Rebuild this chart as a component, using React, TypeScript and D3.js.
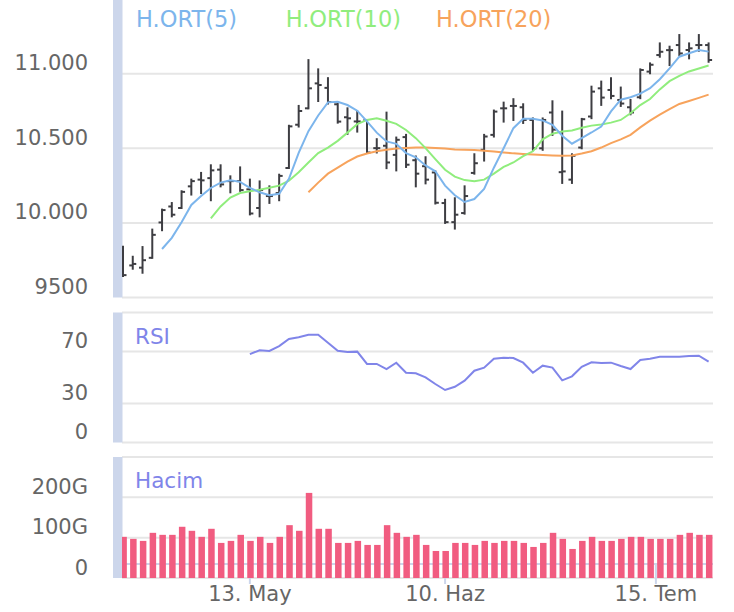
import React from 'react';
import * as d3 from 'd3';

// ---- data (index = trading day) ----
const opens = [9700, 9715, 9700, 9766, 10003, 10110, 10100, 10245, 10290, 10300, 10357, 10280, 10280, 10225, 10100, 10180, 10200, 10368, 10658, 10768, 10935, 10905, 10795, 10708, 10680, 10690, 10501, 10517, 10456, 10575, 10420, 10380, 10338, 10133, 10005, 10066, 10335, 10490, 10590, 10768, 10784, 10775, 10690, 10500, 10740, 10340, 10290, 10505, 10713, 10902, 10891, 10824, 10775, 10842, 11014, 11125, 11158, 11192, 11159, 11192, 11192];
const highs = [9840, 9773, 9838, 9955, 10089, 10133, 10212, 10290, 10335, 10386, 10386, 10312, 10372, 10290, 10278, 10245, 10323, 10651, 10784, 11091, 11029, 10970, 10802, 10768, 10746, 10690, 10561, 10739, 10572, 10590, 10445, 10440, 10345, 10155, 10165, 10245, 10460, 10590, 10753, 10806, 10829, 10795, 10700, 10700, 10815, 10746, 10460, 10697, 10913, 10947, 10969, 10907, 10824, 11029, 11069, 11203, 11181, 11259, 11203, 11259, 11203];
const lows = [9644, 9693, 9666, 9766, 9951, 10044, 10100, 10190, 10200, 10152, 10245, 10205, 10215, 10057, 10044, 10134, 10152, 10368, 10646, 10768, 10817, 10800, 10672, 10597, 10612, 10468, 10472, 10367, 10352, 10375, 10245, 10265, 10130, 10000, 9962, 10062, 10330, 10418, 10579, 10679, 10690, 10670, 10490, 10490, 10590, 10268, 10268, 10500, 10702, 10791, 10835, 10784, 10728, 10836, 11003, 11114, 11058, 11125, 11103, 11154, 11080];
const closes = [9650, 9725, 9750, 9920, 10086, 10055, 10208, 10280, 10285, 10352, 10258, 10280, 10220, 10063, 10220, 10180, 10315, 10647, 10750, 10902, 10924, 10810, 10679, 10701, 10680, 10472, 10501, 10405, 10557, 10390, 10330, 10290, 10135, 10005, 10055, 10180, 10400, 10579, 10746, 10768, 10784, 10690, 10500, 10690, 10625, 10345, 10450, 10695, 10880, 10840, 10851, 10800, 10740, 11025, 11060, 11147, 11158, 11136, 11170, 11192, 11092];
// volume in G
const volumes = [102, 97, 92, 112, 107, 107, 127, 117, 102, 122, 87, 92, 107, 92, 102, 87, 102, 131, 117, 211, 122, 122, 87, 87, 92, 82, 82, 131, 112, 102, 107, 82, 67, 67, 87, 87, 82, 92, 87, 92, 92, 87, 77, 87, 112, 97, 72, 92, 102, 92, 92, 97, 102, 102, 97, 97, 97, 107, 112, 107, 107];

// moving averages (start index noted)
const ma5Start = 4;
const ma5 = [9825, 9900, 10005, 10120, 10180, 10234, 10270, 10285, 10275, 10235, 10205, 10185, 10195, 10295, 10470, 10615, 10720, 10808, 10812, 10790, 10752, 10680, 10605, 10546, 10530, 10468, 10440, 10385, 10346, 10250, 10185, 10140, 10160, 10228, 10370, 10500, 10635, 10698, 10698, 10687, 10658, 10584, 10531, 10568, 10606, 10646, 10747, 10826, 10842, 10866, 10903, 10963, 11036, 11114, 11137, 11159, 11148];
const ma10Start = 9;
const ma10 = [10030, 10110, 10170, 10200, 10212, 10222, 10235, 10250, 10283, 10340, 10405, 10468, 10505, 10550, 10605, 10662, 10690, 10701, 10685, 10664, 10623, 10568, 10501, 10427, 10356, 10310, 10287, 10280, 10290, 10330, 10375, 10405, 10448, 10480, 10560, 10598, 10613, 10620, 10638, 10652, 10660, 10672, 10690, 10735, 10790, 10830, 10895, 10950, 10985, 11015, 11035, 11055];
const ma20Start = 19;
const ma20 = [10205, 10270, 10330, 10370, 10410, 10445, 10465, 10480, 10490, 10498, 10502, 10505, 10505, 10502, 10498, 10492, 10490, 10488, 10484, 10478, 10472, 10466, 10462, 10458, 10455, 10452, 10450, 10452, 10465, 10480, 10505, 10535, 10560, 10590, 10640, 10685, 10725, 10762, 10797, 10817, 10838, 10860];
const rsiStart = 13;
const rsi = [68, 71, 70.4, 74.2, 79.6, 80.9, 82.9, 82.9, 76.8, 70.6, 69.6, 69.9, 60.4, 60.4, 56.5, 61.4, 53.7, 53.2, 50.1, 45, 40.4, 42.9, 47.6, 55.2, 57.6, 64.5, 65.2, 65, 61.4, 53.7, 59.1, 57.6, 47.8, 50.9, 58.2, 61.7, 61.2, 61.4, 58.8, 56.5, 63.5, 64.5, 66, 66, 66, 66.5, 66.8, 62.2];

// axes
const dateTickIndex = [13, 33, 54.6];
const dateTickLabels = ['13. May', '10. Haz', '15. Tem'];
const priceTicks = [9500, 10000, 10500, 11000];
const priceTickLabels = ['9500', '10.000', '10.500', '11.000'];
const rsiTicks = [0, 30, 70, 100];
const rsiTickLabels = ['0', '30', '70', ''];
const volTicks = [0, 100, 200, 300];
const volTickLabels = ['0', '100G', '200G', ''];
const legendNames = ['H.ORT(5)', 'H.ORT(10)', 'H.ORT(20)'];

const FONT = '"DejaVu Sans", Verdana, sans-serif';
const GRID = '#e6e6e6';
const BAND = '#ccd6eb';
const LABEL = '#666666';
const C_MA5 = '#7cb5ec';
const C_MA10 = '#90ed7d';
const C_MA20 = '#f7a35c';
const C_RSI = '#8085e9';
const C_VOL = '#f15c80';
const C_OHLC = '#3d3d42';

export default function App() {
  const n = closes.length;
  const plotL = 122;
  const plotR = 713;
  const x = d3.scaleLinear().domain([0, n - 1]).range([123, 708.6]);
  const yP = d3.scaleLinear().domain([9500, 11500]).range([297.5, -0.9]);
  const yR = d3.scaleLinear().domain([0, 100]).range([442.5, 312.5]);
  const yV = d3.scaleLinear().domain([0, 300]).range([578, 457]);

  const mkLine = (start: number, scale: d3.ScaleLinear<number, number>) =>
    d3.line<number>().x((_, k) => x(start + k)).y((v) => scale(v));

  const panes = [
    { top: -1, bottom: 297.5, scale: yP, ticks: priceTicks, labels: priceTickLabels },
    { top: 312.5, bottom: 442.5, scale: yR, ticks: rsiTicks, labels: rsiTickLabels },
    { top: 457, bottom: 578, scale: yV, ticks: volTicks, labels: volTickLabels },
  ];

  const tick = 3.5;
  const colW = 6.5;

  return (
    <svg width={734} height={612} style={{ position: 'absolute', left: 0, top: 0, fontFamily: FONT }}>
      <defs>
        <clipPath id="cMain"><rect x={plotL} y={-1} width={plotR - plotL} height={299} /></clipPath>
        <clipPath id="cRsi"><rect x={plotL} y={312} width={plotR - plotL} height={131} /></clipPath>
        <clipPath id="cVol"><rect x={plotL} y={456} width={plotR - plotL} height={123} /></clipPath>
      </defs>
      <rect x={0} y={0} width={734} height={612} fill="#ffffff" />

      {/* grid lines and y labels */}
      {panes.map((p, pi) => (
        <g key={pi}>
          {p.ticks.map((t, ti) => (
            <g key={ti}>
              <line x1={plotL} x2={plotR} y1={p.scale(t)} y2={p.scale(t)} stroke={GRID} strokeWidth={2} />
              {p.labels[ti] && (
                <text x={88} y={p.scale(t) - 3.5} textAnchor="end" fontSize={21} fill={LABEL}>
                  {p.labels[ti]}
                </text>
              )}
            </g>
          ))}
          <rect x={113} y={Math.max(p.top, 0)} width={9.5} height={p.bottom - Math.max(p.top, 0)} fill={BAND} />
        </g>
      ))}

      {/* x axis line and ticks */}
      <line x1={plotL} x2={plotR} y1={564} y2={564} stroke={BAND} strokeWidth={2} />
      {dateTickIndex.map((d, k) => (
        <g key={k}>
          <line x1={x(d)} x2={x(d)} y1={564} y2={584} stroke={BAND} strokeWidth={2} />
          <text x={x(d)} y={601} textAnchor="middle" fontSize={21} fill={LABEL}>
            {dateTickLabels[k]}
          </text>
        </g>
      ))}

      {/* OHLC bars */}
      <g clipPath="url(#cMain)" stroke={C_OHLC} strokeWidth={2}>
        {closes.map((c, i) => {
          const cx = x(i);
          return (
            <g key={i}>
              <line x1={cx} x2={cx} y1={yP(highs[i]) - 1} y2={yP(lows[i]) + 1} />
              <line x1={cx - tick} x2={cx} y1={yP(opens[i])} y2={yP(opens[i])} />
              <line x1={cx} x2={cx + tick} y1={yP(c)} y2={yP(c)} />
            </g>
          );
        })}
        <path d={mkLine(ma20Start, yP)(ma20) || ''} fill="none" stroke={C_MA20} strokeWidth={2} />
        <path d={mkLine(ma10Start, yP)(ma10) || ''} fill="none" stroke={C_MA10} strokeWidth={2} />
        <path d={mkLine(ma5Start, yP)(ma5) || ''} fill="none" stroke={C_MA5} strokeWidth={2} />
      </g>

      {/* legend */}
      {legendNames.map((name, k) => (
        <text key={k} x={[136, 285.7, 436][k]} y={26.5} fontSize={22.5} fill={[C_MA5, C_MA10, C_MA20][k]}>
          {name}
        </text>
      ))}

      {/* RSI */}
      <g clipPath="url(#cRsi)">
        <path d={mkLine(rsiStart, yR)(rsi) || ''} fill="none" stroke={C_RSI} strokeWidth={2} />
      </g>
      <text x={135} y={344} fontSize={21.5} fill={C_RSI}>RSI</text>

      {/* Volume */}
      <g clipPath="url(#cVol)">
        {volumes.map((v, i) => (
          <rect key={i} x={x(i) - colW / 2 + 0.6} y={yV(v)} width={colW} height={yV(0) - yV(v)} fill={C_VOL} />
        ))}
      </g>
      <text x={135} y={488} fontSize={21.5} fill={C_RSI}>Hacim</text>
    </svg>
  );
}
